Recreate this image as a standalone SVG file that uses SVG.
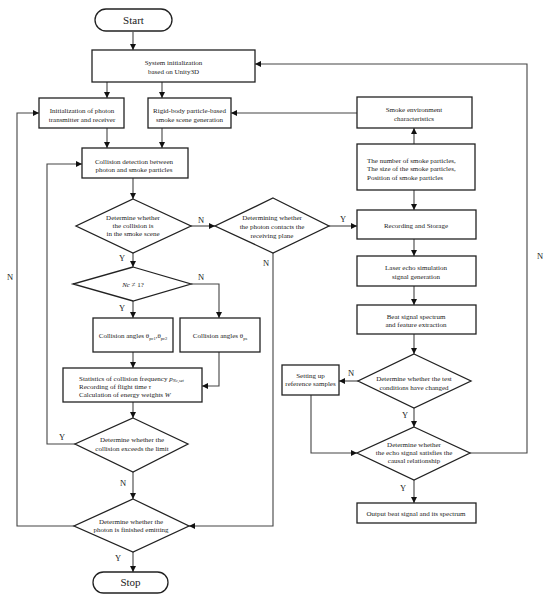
<svg xmlns="http://www.w3.org/2000/svg" width="550" height="599" viewBox="0 0 550 599">
<defs>
<marker id="arr" markerUnits="userSpaceOnUse" markerWidth="6" markerHeight="6" refX="6" refY="3" orient="auto">
<path d="M0,0 L6,3 L0,6 z" fill="#111"/>
</marker>
<style>
.box{fill:#fff;stroke:#222;stroke-width:1.3}
.t{font-family:"Liberation Serif","Times New Roman",serif;font-size:7px;fill:#222;text-anchor:middle}
.tl{font-family:"Liberation Serif","Times New Roman",serif;font-size:7px;fill:#222;text-anchor:start}
.big{font-family:"Liberation Serif","Times New Roman",serif;font-size:11px;fill:#222;text-anchor:middle}
.lb{font-family:"Liberation Serif","Times New Roman",serif;font-size:8.5px;fill:#222;text-anchor:middle}
.c{fill:none;stroke:#444;stroke-width:1.1;marker-end:url(#arr)}
</style>
</defs>
<rect width="550" height="599" fill="#fff"/>

<g id="connectors">
<path class="c" d="M133,32 V50"/>
<path class="c" d="M107,82 V98"/>
<path class="c" d="M162,82 V98"/>
<path class="c" d="M107,128 V148"/>
<path class="c" d="M162,128 V148"/>
<path class="c" d="M357,113 H231"/>
<path class="c" d="M414,144 V128"/>
<path class="c" d="M133,178 V199"/>
<path class="c" d="M191,226 H215"/>
<path class="c" d="M329,226 H357"/>
<path class="c" d="M273,253 V526 H189"/>
<path class="c" d="M133,253 V267"/>
<path class="c" d="M191,284 H219 V318"/>
<path class="c" d="M133,301 V318"/>
<path class="c" d="M133,352 V368"/>
<path class="c" d="M219,352 V386 H202"/>
<path class="c" d="M133,402 V418"/>
<path class="c" d="M75,444 H47 V164 H82"/>
<path class="c" d="M133,472 V499"/>
<path class="c" d="M74,526 H17 V113 H39"/>
<path class="c" d="M133,552 V572"/>
<path class="c" d="M414,190 V210"/>
<path class="c" d="M414,239 V256"/>
<path class="c" d="M414,286 V305"/>
<path class="c" d="M414,334 V354"/>
<path class="c" d="M358,381 H339"/>
<path class="c" d="M414,408 V427"/>
<path class="c" d="M311,395 V453 H357"/>
<path class="c" d="M414,480 V503"/>
<path class="c" d="M470,453 H527 V64 H255"/>
<text class="lb" x="201" y="223">N</text>
<text class="lb" x="343" y="222">Y</text>
<text class="lb" x="266" y="266">N</text>
<text class="lb" x="122" y="261">Y</text>
<text class="lb" x="201" y="280">N</text>
<text class="lb" x="122" y="311">Y</text>
<text class="lb" x="62" y="440">Y</text>
<text class="lb" x="123" y="486">N</text>
<text class="lb" x="10" y="280">N</text>
<text class="lb" x="118" y="561">Y</text>
<text class="lb" x="351" y="376">N</text>
<text class="lb" x="405" y="418">Y</text>
<text class="lb" x="403" y="491">Y</text>
<text class="lb" x="540" y="259">N</text>
</g>

<g id="start">
<rect class="box" x="95" y="9" width="77" height="22" rx="11"/>
<text class="big" x="133.5" y="24">Start</text>
</g>
<g id="sysinit">
<rect class="box" x="92" y="50" width="163" height="32"/>
<text class="t" x="173.5" y="64.5">System initialization</text>
<text class="t" x="173.5" y="73.5">based on Unity3D</text>
</g>
<g id="initphoton">
<rect class="box" x="39" y="98" width="85" height="30"/>
<text class="t" x="82" y="112.5">Initialization of photon</text>
<text class="t" x="82" y="121.5">transmitter and receiver</text>
</g>
<g id="rigid">
<rect class="box" x="148" y="98" width="83" height="30"/>
<text class="t" x="189.5" y="112.5">Rigid-body particle-based</text>
<text class="t" x="189.5" y="121.5">smoke scene generation</text>
</g>
<g id="smokeenv">
<rect class="box" x="357" y="97" width="115" height="31"/>
<text class="t" x="414" y="111.5">Smoke environment</text>
<text class="t" x="414" y="120.5">characteristics</text>
</g>
<g id="numbers">
<rect class="box" x="357" y="144" width="118" height="46"/>
<text class="tl" x="367" y="162.5">The number of smoke particles,</text>
<text class="tl" x="367" y="171">The size of the smoke particles,</text>
<text class="tl" x="367" y="179.5">Position of smoke particles</text>
</g>
<g id="collision">
<rect class="box" x="82" y="148" width="106" height="30"/>
<text class="t" x="134" y="163.5">Collision detection between</text>
<text class="t" x="134" y="172">photon and smoke particles</text>
</g>
<g id="d1">
<polygon class="box" points="133,199 191,226 133,253 76,226"/>
<text class="t" x="133" y="219.5">Determine whether</text>
<text class="t" x="133" y="227.5">the collision is</text>
<text class="t" x="133" y="235.5">in the smoke scene</text>
</g>
<g id="d2">
<polygon class="box" points="273,198 329,226 273,253 215,226"/>
<text class="t" x="272" y="219.5">Determining whether</text>
<text class="t" x="272" y="228.5">the photon contacts the</text>
<text class="t" x="272" y="237.5">receiving plane</text>
</g>
<g id="recording">
<rect class="box" x="357" y="210" width="119" height="29"/>
<text class="t" x="416" y="227.5">Recording and Storage</text>
</g>
<g id="laser">
<rect class="box" x="357" y="256" width="119" height="30"/>
<text class="t" x="416" y="269.5">Laser echo simulation</text>
<text class="t" x="416" y="278.5">signal generation</text>
</g>
<g id="nc">
<polygon class="box" points="133,267 191,284 133,301 73,284"/>
<text class="t" x="133" y="287" font-style="italic"><tspan font-style="italic">Nc</tspan><tspan font-style="normal"> ≠ 1?</tspan></text>
</g>
<g id="ca1">
<rect class="box" x="93" y="318" width="80" height="34"/>
<text class="t" x="133" y="338">Collision angles θ<tspan font-size="4.5" dy="1.5">pc1</tspan><tspan dy="-1.5">,θ</tspan><tspan font-size="4.5" dy="1.5">pc2</tspan></text>
</g>
<g id="ca2">
<rect class="box" x="180" y="318" width="80" height="34"/>
<text class="t" x="220" y="338">Collision angles θ<tspan font-size="4.5" dy="1.5">ps</tspan></text>
</g>
<g id="beat">
<rect class="box" x="357" y="305" width="119" height="29"/>
<text class="t" x="416" y="318.5">Beat signal spectrum</text>
<text class="t" x="416" y="326.5">and feature extraction</text>
</g>
<g id="stats">
<rect class="box" x="63" y="368" width="139" height="34"/>
<text class="tl" x="79" y="380.5">Statistics of collision frequency <tspan font-style="italic">p</tspan><tspan font-size="4.5" dy="1.5" font-style="italic">Nc,set</tspan></text>
<text class="tl" x="79" y="388.5">Recording of flight time <tspan font-style="italic">τ</tspan></text>
<text class="tl" x="79" y="396.5">Calculation of energy weights <tspan font-style="italic">W</tspan></text>
</g>
<g id="test">
<polygon class="box" points="414,354 471,381 414,408 358,381"/>
<text class="t" x="414" y="380.5">Determine whether the test</text>
<text class="t" x="414" y="389.5">conditions have changed</text>
</g>
<g id="setting">
<rect class="box" x="282" y="365" width="57" height="30"/>
<text class="t" x="310.5" y="377.5">Setting up</text>
<text class="t" x="310.5" y="385.5">reference samples</text>
</g>
<g id="limit">
<polygon class="box" points="133,418 188,444 133,472 75,444"/>
<text class="t" x="132" y="441.5">Determine whether the</text>
<text class="t" x="132" y="450.5">collision exceeds the limit</text>
</g>
<g id="causal">
<polygon class="box" points="414,427 470,453 414,480 357,453"/>
<text class="t" x="414" y="446.5">Determine whether</text>
<text class="t" x="414" y="454.5">the echo signal satisfies the</text>
<text class="t" x="414" y="463">causal relationship</text>
</g>
<g id="finished">
<polygon class="box" points="133,499 189,526 133,552 74,526"/>
<text class="t" x="131" y="523.5">Determine whether the</text>
<text class="t" x="131" y="531.5">photon is finished emitting</text>
</g>
<g id="output">
<rect class="box" x="357" y="503" width="119" height="20"/>
<text class="t" x="416" y="515.5">Output beat signal and its spectrum</text>
</g>
<g id="stop">
<rect class="box" x="93" y="572" width="75" height="21" rx="10.5"/>
<text class="big" x="130.5" y="586">Stop</text>
</g>
</svg>
